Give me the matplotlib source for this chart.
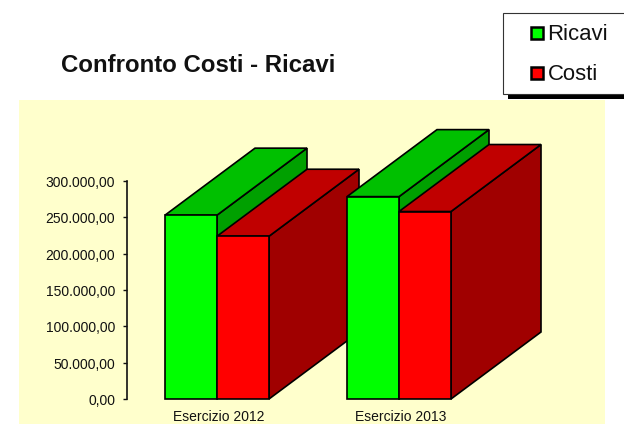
import matplotlib
matplotlib.use("Agg")
import matplotlib.pyplot as plt
from matplotlib.patches import Polygon, Rectangle
from matplotlib.transforms import ScaledTranslation

plt.rcParams["font.family"] = ["Liberation Sans", "DejaVu Sans"]

# Data
years = ["Esercizio 2012", "Esercizio 2013"]
series_names = ["Ricavi", "Costi"]
ricavi = [253000, 278500]
costi = [224000, 258000]
tick_values = [0, 50000, 100000, 150000, 200000, 250000, 300000]
tick_labels = ["0,00", "50.000,00", "100.000,00", "150.000,00",
               "200.000,00", "250.000,00", "300.000,00"]

# Styling
W, H = 624, 424
PANEL = "#FFFFCC"
FRONT = {"Ricavi": "#00FF00", "Costi": "#FF0000"}
TOP = {"Ricavi": "#00C000", "Costi": "#C00000"}
SIDE = {"Ricavi": "#00A000", "Costi": "#A00000"}
EDGE = "#000000"
LW = 1.2

BAR_W = 1.0          # one bar, in category units
GROUP_STEP = 3.5     # distance between the two year groups
DEPTH_X = 90 / 52    # oblique depth, category units
DEPTH_Y = 67 / 218 * 300000  # oblique depth, value units

fig = plt.figure(figsize=(W / 100, H / 100), dpi=100, facecolor="white")

# Full-figure layer in pixel coordinates for panel, title and legend
bg = fig.add_axes([0, 0, 1, 1], zorder=0)
bg.set_xlim(0, W)
bg.set_ylim(H, 0)
bg.axis("off")
bg.add_patch(Rectangle((19, 100), 586, 324, fc=PANEL, ec="none"))
bg.text(61, 65.5, "Confronto Costi - Ricavi", fontsize=17.3, fontweight="bold",
        color="#111111", ha="left", va="center")

# Plot area: the value axis sits at x=127, value 0 at y=399, 300.000 at y=181
left, right, y0, y300 = 127, 605, 399, 181
ax = fig.add_axes([left / W, 1 - y0 / H, (right - left) / W, (y0 - y300) / H], zorder=1)
ax.patch.set_alpha(0)
ax.set_xlim((left - 217) / 52, (right - 217) / 52)
ax.set_ylim(0, 300000)


def box(x0, value, name):
    """Draw one oblique 3D column: side, top, then front face."""
    x1 = x0 + BAR_W
    kw = dict(ec=EDGE, lw=LW, joinstyle="miter", clip_on=False)
    ax.add_patch(Polygon([(x1, 0), (x1 + DEPTH_X, DEPTH_Y),
                          (x1 + DEPTH_X, value + DEPTH_Y), (x1, value)],
                         fc=SIDE[name], **kw))
    ax.add_patch(Polygon([(x0, value), (x0 + DEPTH_X, value + DEPTH_Y),
                          (x1 + DEPTH_X, value + DEPTH_Y), (x1, value)],
                         fc=TOP[name], **kw))
    ax.add_patch(Polygon([(x0, 0), (x0, value), (x1, value), (x1, 0)],
                         fc=FRONT[name], **kw))


for i, (r, c) in enumerate(zip(ricavi, costi)):
    centre = i * GROUP_STEP
    box(centre - BAR_W, r, "Ricavi")
    box(centre, c, "Costi")

for side in ("top", "right", "bottom"):
    ax.spines[side].set_visible(False)
ax.spines["left"].set_linewidth(1.2)
ax.spines["left"].set_color("#111111")
ax.set_yticks(tick_values, tick_labels)
ax.tick_params(axis="y", length=3, width=1.0, color="#111111", pad=5.4,
               labelsize=10, labelcolor="#111111")
nudge_y = ScaledTranslation(0, -0.5 / 100, fig.dpi_scale_trans)
for lab in ax.get_yticklabels():
    lab.set_transform(lab.get_transform() + nudge_y)

ax.set_xticks([i * GROUP_STEP for i in range(len(years))], years)
ax.tick_params(axis="x", length=0, pad=8, labelsize=10, labelcolor="#111111")
nudge_x = ScaledTranslation(1.5 / 100, 0, fig.dpi_scale_trans)
for lab in ax.get_xticklabels():
    lab.set_transform(lab.get_transform() + nudge_x)

# Legend box with its drop shadow, running off the right edge
top_layer = fig.add_axes([0, 0, 1, 1], zorder=2)
top_layer.set_xlim(0, W)
top_layer.set_ylim(H, 0)
top_layer.axis("off")
top_layer.add_patch(Rectangle((508, 93), 120, 6, fc="black", ec="none"))
top_layer.add_patch(Rectangle((503, 12.5), 125, 81, fc="white", ec="#333333", lw=0.8))
for name, y in zip(series_names, [33, 73]):
    top_layer.add_patch(Rectangle((531, y - 6.5), 12, 12, fc=FRONT[name], ec="black", lw=1.8))
    top_layer.text(547.5, y + 2, name, fontsize=15.9, color="#111111", ha="left", va="center")

fig.savefig("out.png", dpi=100)
